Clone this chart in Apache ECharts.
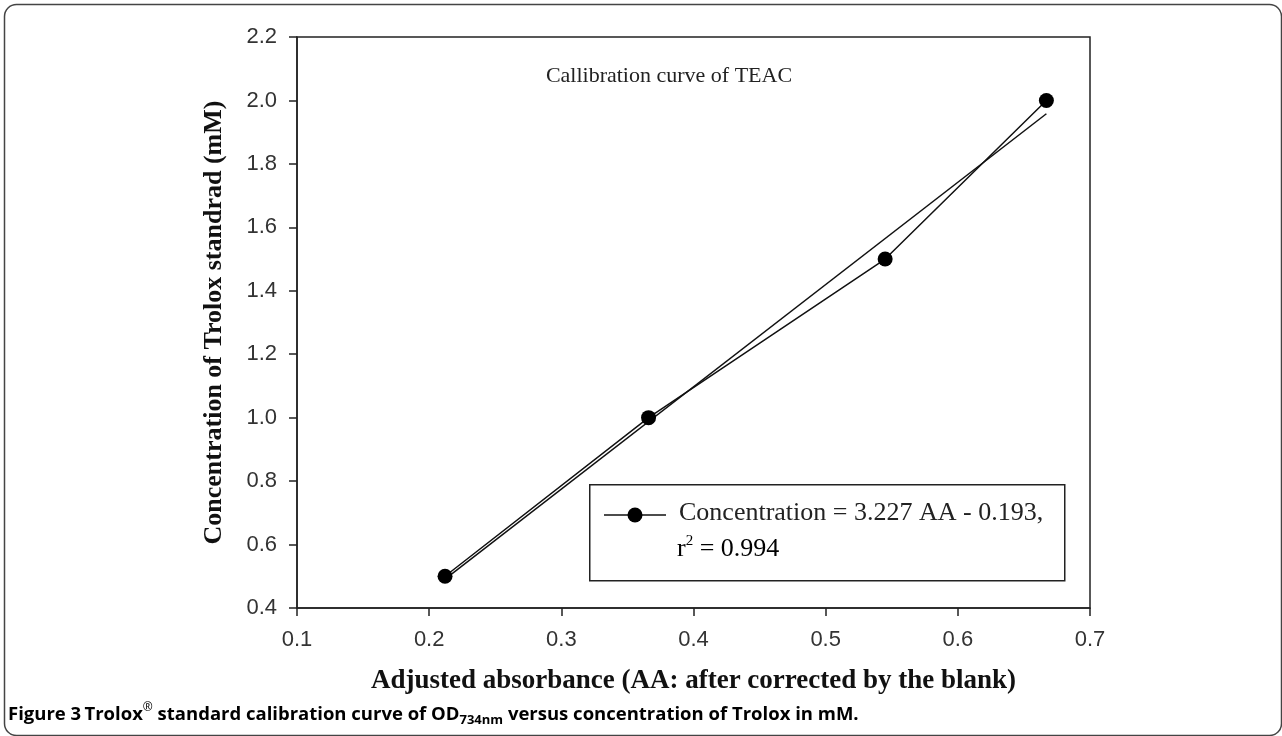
<!DOCTYPE html>
<html><head><meta charset="utf-8">
<script src="https://cdn.jsdelivr.net/npm/echarts@6/dist/echarts.min.js"></script>
<style>html,body{margin:0;padding:0;background:#fff}#c{width:1282px;height:736px}</style>
</head><body><div id="c"></div>
<script>
// Data
const absorbance = [0.212, 0.366, 0.545, 0.667];
const concentration = [0.5, 1.0, 1.5, 2.0];
const fitX = [0.212, 0.667];
const fitY = [0.491, 1.958];
const xTicks = [0.1, 0.2, 0.3, 0.4, 0.5, 0.6, 0.7];
const yTicks = [0.4, 0.6, 0.8, 1.0, 1.2, 1.4, 1.6, 1.8, 2.0, 2.2];
const titleText = 'Callibration curve of TEAC';
const xTitle = 'Adjusted absorbance (AA: after corrected by the blank)';
const yTitle = 'Concentration of Trolox standrad (mM)';
const legendLine1 = 'Concentration = 3.227 AA - 0.193,';
const legendLine2 = '0.994';

const chart = echarts.init(document.getElementById('c'));
const pts = absorbance.map((x, i) => [x, concentration[i]]);
const fit = fitX.map((x, i) => [x, fitY[i]]);
const axisCol = '#222';
const serif = '"Liberation Serif", "Times New Roman", serif';
const sans = '"Liberation Sans", Arial, sans-serif';

chart.setOption({
  animation: false,
  backgroundColor: '#fff',
  title: {
    text: titleText, left: 664, top: 60, textAlign: 'center',
    textStyle: { fontFamily: serif, fontWeight: 'normal', fontSize: 22, color: '#222' }
  },
  grid: { left: 297, right: 192, top: 37, bottom: 128, show: true, borderColor: axisCol, borderWidth: 1.5, backgroundColor: 'transparent' },
  xAxis: {
    type: 'value', min: xTicks[0], max: xTicks[xTicks.length - 1], interval: 0.1,
    name: xTitle, nameLocation: 'middle', nameGap: 60,
    nameTextStyle: { fontFamily: serif, fontWeight: 'bold', fontSize: 27, color: '#111' },
    axisLine: { show: true, lineStyle: { color: axisCol, width: 1.5 } },
    axisTick: { show: true, inside: false, length: 8, lineStyle: { color: axisCol, width: 1.5 } },
    axisLabel: { margin: 21, fontFamily: sans, fontSize: 22, color: '#333', formatter: v => v.toFixed(1) },
    splitLine: { show: false }
  },
  yAxis: {
    type: 'value', min: yTicks[0], max: yTicks[yTicks.length - 1], interval: 0.2,
    name: yTitle, nameLocation: 'middle', nameGap: 70, nameRotate: 90,
    nameTextStyle: { fontFamily: serif, fontWeight: 'bold', fontSize: 26, color: '#111' },
    axisLine: { show: true, lineStyle: { color: axisCol, width: 1.5 } },
    axisTick: { show: true, inside: false, length: 8, lineStyle: { color: axisCol, width: 1.5 } },
    axisLabel: { margin: 20, fontFamily: sans, fontSize: 22, color: '#333', formatter: v => v.toFixed(1) },
    splitLine: { show: false }
  },
  series: [
    {
      type: 'line', data: fit, symbol: 'none', z: 2,
      lineStyle: { color: '#111', width: 1.5 }
    },
    {
      type: 'line', data: pts, symbol: 'circle', symbolSize: 15, z: 3,
      lineStyle: { color: '#111', width: 1.5 },
      itemStyle: { color: '#000', borderWidth: 0 }
    }
  ],
  graphic: [
    { type: 'rect', left: 2, top: 2, shape: { width: 1277, height: 731, r: 12 }, style: { fill: 'none', stroke: '#444', lineWidth: 1.5 }, z: 0 },
    { type: 'rect', left: 589, top: 484, shape: { width: 475, height: 96 }, style: { fill: '#fff', stroke: '#222', lineWidth: 1.5 }, z: 10 },
    { type: 'line', shape: { x1: 604, y1: 515, x2: 666, y2: 515 }, style: { stroke: '#111', lineWidth: 1.5 }, z: 11 },
    { type: 'circle', shape: { cx: 635, cy: 515, r: 7.5 }, style: { fill: '#000' }, z: 12 },
    { type: 'text', left: 679, top: 500, z: 12, style: { text: legendLine1, font: '26px ' + serif, fill: '#222' } },
    { type: 'text', left: 677, top: 534, z: 12, style: {
        text: '{a|r}{s|2}{a| = ' + legendLine2 + '}',
        rich: { a: { fontFamily: serif, fontSize: 26, color: '#222' }, s: { fontFamily: serif, fontSize: 15, color: '#222', padding: [0, 0, 16, 0] } }
      } },
    { type: 'text', left: 8, top: 702, z: 12, style: {
        text: '{b|Figure 3} {n|Trolox}{sup|®}{n| standard calibration curve of OD}{sub|734nm}{n| versus concentration of Trolox in mM.}',
        rich: {
          b: { fontFamily: '"Open Sans", sans-serif', fontWeight: 'bold', fontSize: 18.5, color: '#111' },
          n: { fontFamily: '"Open Sans", sans-serif', fontWeight: 'bold', fontSize: 18.5, color: '#111' },
          sup: { fontFamily: '"Open Sans", sans-serif', fontSize: 12, color: '#111', padding: [0, 0, 14, 0] },
          sub: { fontFamily: '"Open Sans", sans-serif', fontWeight: 'bold', fontSize: 13, color: '#111', padding: [10, 0, 0, 0] }
        }
      } }
  ]
});
</script></body></html>
